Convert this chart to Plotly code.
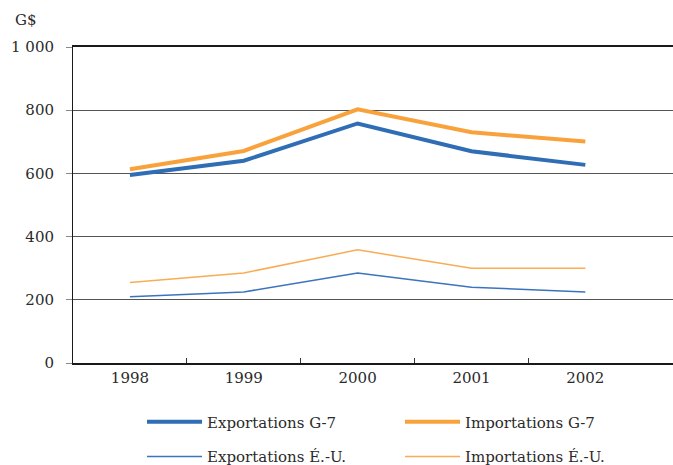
import plotly.graph_objects as go

years = ["1998", "1999", "2000", "2001", "2002"]
exp_g7 = [595, 640, 758, 670, 627]
imp_g7 = [613, 671, 803, 730, 701]
exp_us = [210, 225, 285, 240, 225]
imp_us = [255, 285, 358, 300, 300]
y_ticks = [0, 200, 400, 600, 800, 1000]
y_ticktext = ["0", "200", "400", "600", "800", "1 000"]

FONT = "DejaVu Serif"
xs = list(range(len(years)))

fig = go.Figure()
fig.add_trace(go.Scatter(x=xs, y=exp_g7, mode="lines", name="Exportations G-7",
                         line=dict(color="#2F6DB5", width=4), legend="legend"))
fig.add_trace(go.Scatter(x=xs, y=imp_g7, mode="lines", name="Importations G-7",
                         line=dict(color="#F9A23B", width=4), legend="legend"))
fig.add_trace(go.Scatter(x=xs, y=exp_us, mode="lines", name="Exportations É.-U.",
                         line=dict(color="#3A74BE", width=1.5), legend="legend2"))
fig.add_trace(go.Scatter(x=xs, y=imp_us, mode="lines", name="Importations É.-U.",
                         line=dict(color="#F9AC55", width=1.5), legend="legend2"))

leg_common = dict(orientation="h", xanchor="left", yanchor="middle", x=0.115,
                  font=dict(family=FONT, size=15, color="#2a2a2a"),
                  itemwidth=55, entrywidth=188, entrywidthmode="pixels",
                  bgcolor="rgba(0,0,0,0)")

fig.update_layout(
    width=673, height=465,
    margin=dict(l=73, r=0, t=47, b=102, autoexpand=False),
    paper_bgcolor="white", plot_bgcolor="white",
    font=dict(family=FONT, size=15, color="#2a2a2a"),
    showlegend=True,
    legend=dict(y=-0.187, **leg_common),
    legend2=dict(y=-0.297, **leg_common),
    xaxis=dict(range=[-0.5, 4.77], tickvals=xs, ticktext=years, ticks="",
               showgrid=False, zeroline=False, showline=True, mirror=True,
               linecolor="#1a1a1a", linewidth=2, automargin=False,
               minor=dict(tickvals=[0.5, 1.5, 2.5, 3.5], ticks="inside", ticklen=5,
                          tickcolor="#333", tickwidth=1, showgrid=False),
               tickfont=dict(family=FONT, size=15, color="#2a2a2a"), fixedrange=True),
    yaxis=dict(range=[0, 1000], tickvals=y_ticks, ticktext=y_ticktext,
               ticks="outside", ticklen=6, tickcolor="#888", ticklabelstandoff=9,
               showgrid=True, gridcolor="#555", gridwidth=1, zeroline=False,
               showline=True, linecolor="#1a1a1a", linewidth=1, automargin=False,
               tickfont=dict(family=FONT, size=15, color="#2a2a2a"), fixedrange=True),
    annotations=[dict(text="G$", xref="paper", yref="paper", x=-0.078, y=1.085,
                      xanchor="center", yanchor="middle", showarrow=False,
                      font=dict(family=FONT, size=15, color="#2a2a2a"))],
)

fig.write_html(
    "out.html",
    config={"displayModeBar": False},
    post_script="document.body.style.margin='0';document.body.style.overflow='hidden';",
)
